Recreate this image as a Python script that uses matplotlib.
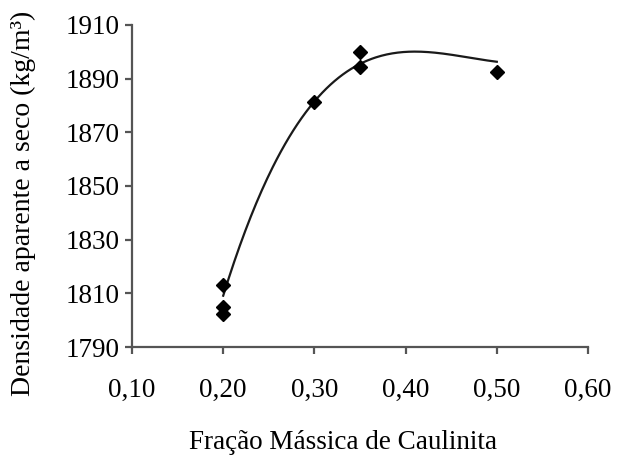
import numpy as np
import matplotlib
matplotlib.use('Agg')
import matplotlib.pyplot as plt

plt.rcParams['font.family'] = ['Liberation Serif', 'DejaVu Serif']

# Densidade aparente a seco vs. fração mássica de caulinita
fracao = np.array([0.20, 0.20, 0.20, 0.30, 0.35, 0.35, 0.50])
densidade = np.array([1813.1, 1804.9, 1802.3, 1881.3, 1900.0, 1894.4, 1892.5])

# linha de tendência (valores lidos ao longo da curva)
tend_x = np.array([0.200, 0.2075, 0.224, 0.240, 0.266, 0.2875, 0.300,
                   0.317, 0.350, 0.391, 0.434, 0.463, 0.496])
tend_y = np.array([1809.0, 1817.6, 1833.6, 1845.5, 1863.4, 1877.2, 1881.5,
                   1888.4, 1895.0, 1899.6, 1899.6, 1898.1, 1896.6])

x_ticks = [0.10, 0.20, 0.30, 0.40, 0.50, 0.60]
y_ticks = [1790, 1810, 1830, 1850, 1870, 1890, 1910]

fig = plt.figure(figsize=(6.23, 4.57), dpi=100)
ax = fig.add_axes([0.2119, 0.2407, 0.7319, 0.7046])

# suaviza a tendência com polinômio de 3a ordem
coef = np.polyfit(tend_x, tend_y, 3)
xs = np.linspace(0.20, 0.50, 200)
ax.plot(xs, np.polyval(coef, xs), color='#1a1a1a', lw=1.6, zorder=2)

ax.plot(fracao, densidade, linestyle='none', marker='D', ms=7.5,
        color='black', zorder=3)

ax.set_xlim(0.10, 0.60)
ax.set_ylim(1790, 1910)
ax.set_xticks(x_ticks)
ax.set_xticklabels([f'{v:.2f}'.replace('.', ',') for v in x_ticks])
ax.set_yticks(y_ticks)
ax.set_yticklabels([str(v) for v in y_ticks])

for side in ['top', 'right']:
    ax.spines[side].set_visible(False)
for side in ['left', 'bottom']:
    ax.spines[side].set_color('#555555')
    ax.spines[side].set_linewidth(1.6)
ax.tick_params(axis='both', direction='out', length=5, width=1.6,
               color='#555555', labelsize=19.5, pad=4)
ax.tick_params(axis='x', pad=17)

fig.text(0.037, 0.556, 'Densidade aparente a seco (kg/m³)', rotation=90,
         ha='center', va='center', fontsize=20)
fig.text(0.551, 0.031, 'Fração Mássica de Caulinita', ha='center',
         va='center', fontsize=19.5)

fig.savefig('out.png', dpi=100)
